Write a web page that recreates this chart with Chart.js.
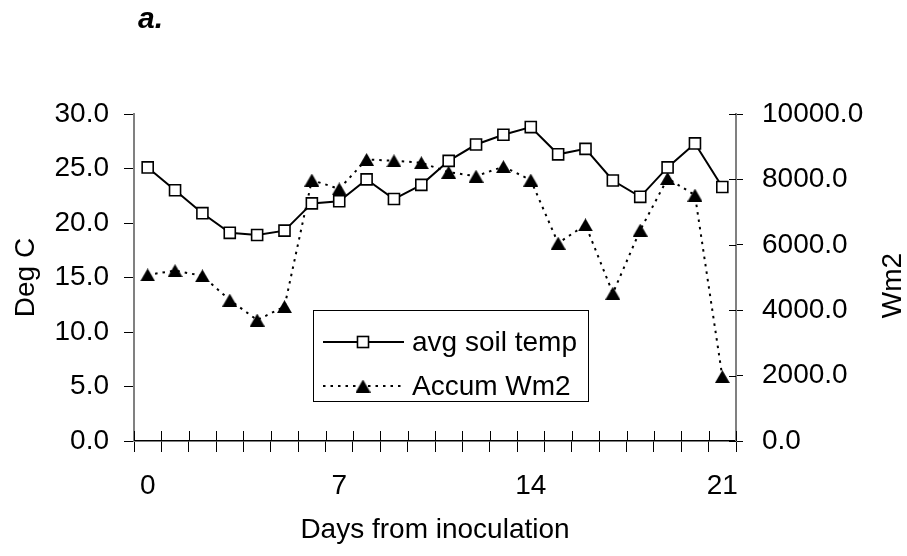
<!DOCTYPE html>
<html>
<head>
<meta charset="utf-8">
<script src="https://cdn.jsdelivr.net/npm/chart.js@4/dist/chart.umd.min.js"></script>
<style>
  html, body { margin: 0; padding: 0; background: #fff; }
  #wrap { width: 907px; height: 556px; position: relative; }
</style>
</head>
<body>
<div id="wrap"><canvas id="soilChart"></canvas></div>
<script>
// data
const days = ["0", "1", "2", "3", "4", "5", "6", "7", "8", "9", "10",
  "11", "12", "13", "14", "15", "16", "17", "18", "19", "20", "21"];
const soilTemp = [25.1, 23.0, 20.9, 19.1, 18.9, 19.3, 21.8, 22.0, 24.0, 22.2, 23.5,
  25.7, 27.2, 28.1, 28.8, 26.3, 26.8, 23.9, 22.4, 25.1, 27.3, 23.3];
const accumWm2 = [5080, 5210, 5050, 4310, 3700, 4110, 7980, 7710, 8610, 8570, 8510,
  8220, 8100, 8390, 7980, 6050, 6610, 4520, 6450, 8030, 7520, 1970];
const tempTicks = [0, 5, 10, 15, 20, 25, 30];
const wm2Ticks = [0, 2000, 4000, 6000, 8000, 10000];

const FONT = "'Liberation Sans', Arial, sans-serif";

// triangle marker centred on its box (like excel)
function makeTriangle() {
  const c = document.createElement("canvas");
  c.width = 15;
  c.height = 13;
  const g = c.getContext("2d");
  g.fillStyle = "#000";
  g.beginPath();
  g.moveTo(7.5, 0);
  g.lineTo(15, 13);
  g.lineTo(0, 13);
  g.closePath();
  g.fill();
  return c;
}
const triangle = makeTriangle();

// tick marks that go inside the plot (x axis and right axis cross)
const innerTicks = {
  id: "innerTicks",
  afterDraw(chart) {
    const ctx = chart.ctx;
    const xs = chart.scales.x;
    const yr = chart.scales.y2;
    const n = days.length;
    ctx.save();
    ctx.strokeStyle = "#000";
    ctx.lineWidth = 1;
    ctx.beginPath();
    for (let i = 0; i <= n; i++) {
      const x = Math.round(xs.left + i * (xs.width / n)) + 0.5;
      ctx.moveTo(x, xs.top - 10);
      ctx.lineTo(x, xs.top);
    }
    yr.ticks.forEach((t) => {
      const y = Math.round(yr.getPixelForValue(t.value)) + 0.5;
      ctx.moveTo(yr.left - 7, y);
      ctx.lineTo(yr.left, y);
    });
    ctx.stroke();
    ctx.restore();
  },
};

// boxed legend inside the plot, the "a." panel letter and the right title
const boxLegend = {
  id: "boxLegend",
  afterDraw(chart) {
    const ctx = chart.ctx;
    ctx.save();
    ctx.fillStyle = "#fff";
    ctx.fillRect(313, 310, 275, 91);
    ctx.strokeStyle = "#000";
    ctx.lineWidth = 1;
    ctx.strokeRect(313.5, 310.5, 275, 91);

    const rows = [342, 386];
    chart.data.datasets.forEach((ds, i) => {
      const y = rows[i];
      ctx.strokeStyle = ds.borderColor;
      ctx.lineWidth = ds.borderWidth;
      ctx.setLineDash(ds.borderDash || []);
      ctx.beginPath();
      ctx.moveTo(323, y);
      ctx.lineTo(404, y);
      ctx.stroke();
      ctx.setLineDash([]);
      if (ds.pointStyle === "rect") {
        const s = Math.SQRT1_2 * ds.pointRadius;
        ctx.fillStyle = ds.pointBackgroundColor;
        ctx.fillRect(363 - s, y - s, 2 * s, 2 * s);
        ctx.lineWidth = ds.pointBorderWidth;
        ctx.strokeRect(363 - s, y - s, 2 * s, 2 * s);
      } else {
        const img = ds.pointStyle;
        ctx.drawImage(img, 363 - img.width / 2, y - img.height / 2);
      }
      ctx.fillStyle = "#000";
      ctx.font = "28px " + FONT;
      ctx.textBaseline = "middle";
      ctx.textAlign = "left";
      ctx.fillText(ds.label, 412, y + 1);
    });

    // right axis title reads bottom to top, same as the left one
    const yr = chart.scales.y2;
    ctx.translate(893, (yr.top + yr.bottom) / 2 + 8);
    ctx.rotate(-Math.PI / 2);
    ctx.textAlign = "center";
    ctx.fillText("Wm2", 0, 0);
    ctx.setTransform(1, 0, 0, 1, 0, 0);

    ctx.font = "italic bold 30px " + FONT;
    ctx.textAlign = "left";
    ctx.textBaseline = "alphabetic";
    ctx.fillText("a.", 138, 28);
    ctx.restore();
  },
};

const datasets = [
  {
    label: "avg soil temp",
    data: soilTemp,
    yAxisID: "y",
    borderColor: "#000",
    borderWidth: 2,
    pointStyle: "rect",
    pointRadius: 7.8,
    pointBorderWidth: 1.6,
    pointBackgroundColor: "#fff",
    pointBorderColor: "#000",
    tension: 0,
    order: 1,
  },
  {
    label: "Accum Wm2",
    data: accumWm2,
    yAxisID: "y2",
    borderColor: "#000",
    borderWidth: 2,
    borderDash: [2.5, 5],
    pointStyle: triangle,
    pointRadius: 8,
    tension: 0,
    order: 2,
  },
];

const ctx = document.getElementById("soilChart").getContext("2d");
new Chart(ctx, {
  type: "line",
  plugins: [innerTicks, boxLegend],
  data: { labels: days, datasets },
  options: {
    responsive: true,
    maintainAspectRatio: false,
    devicePixelRatio: 1,
    animation: false,
    layout: { padding: { top: 114, left: 0, right: 0, bottom: 0 } },
    plugins: {
      legend: { display: false },
      tooltip: { enabled: false },
    },
    scales: {
      x: {
        type: "category",
        offset: true,
        grid: {
          offset: true,
          drawOnChartArea: false,
          drawTicks: true,
          tickLength: 11,
          color: "#000",
          lineWidth: 1,
        },
        border: { color: "#000", width: 1.5 },
        ticks: {
          autoSkip: false,
          maxRotation: 0,
          padding: 17,
          color: "#000",
          font: { family: FONT, size: 28 },
          callback: (v, i) => (i % 7 === 0 ? days[i] : ""),
        },
        title: {
          display: true,
          text: "Days from inoculation",
          color: "#000",
          font: { family: FONT, size: 28, lineHeight: 1 },
          padding: { top: 0, bottom: 12 },
        },
        afterFit: (s) => { s.height = 115; },
      },
      y: {
        position: "left",
        min: 0,
        max: 30,
        afterBuildTicks: (s) => { s.ticks = tempTicks.map((v) => ({ value: v })); },
        grid: {
          drawOnChartArea: false,
          tickLength: 10,
          color: "#000",
          lineWidth: 1,
        },
        border: { color: "#808080", width: 2 },
        ticks: {
          padding: 15,
          color: "#000",
          font: { family: FONT, size: 28 },
          callback: (v) => Number(v).toFixed(1),
        },
        title: {
          display: true,
          text: "Deg C",
          color: "#000",
          font: { family: FONT, size: 28, lineHeight: 1 },
          padding: { top: 12, bottom: 0 },
        },
        afterFit: (s) => { s.width = 134; },
      },
      y2: {
        position: "right",
        min: 0,
        max: 10000,
        afterBuildTicks: (s) => { s.ticks = wm2Ticks.map((v) => ({ value: v })); },
        grid: {
          drawOnChartArea: false,
          tickLength: 7,
          color: "#000",
          lineWidth: 1,
        },
        border: { color: "#808080", width: 2 },
        ticks: {
          padding: 19,
          color: "#000",
          font: { family: FONT, size: 28 },
          callback: (v) => Number(v).toFixed(1),
        },
        title: { display: false },
        afterFit: (s) => { s.width = 171; },
      },
    },
  },
});
</script>
</body>
</html>
